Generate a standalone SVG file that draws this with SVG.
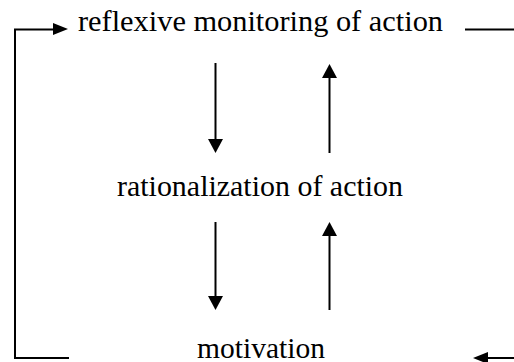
<svg xmlns="http://www.w3.org/2000/svg" width="514" height="362" viewBox="0 0 514 362">
<style>
.lbl{font-family:"Liberation Serif","Times New Roman",serif;font-size:29.5px;fill:#000}
.ln{stroke:#000;stroke-width:2;fill:none}
.hd{fill:#000;stroke:none}
</style>
<rect width="514" height="362" fill="#fff"/>
<g id="node-reflexive"><text class="lbl" x="78" y="31" textLength="365" lengthAdjust="spacingAndGlyphs">reflexive monitoring of action</text></g>
<g id="node-rationalization"><text class="lbl" x="117" y="196" textLength="286" lengthAdjust="spacingAndGlyphs">rationalization of action</text></g>
<g id="node-motivation"><text class="lbl" x="197" y="358" textLength="128" lengthAdjust="spacingAndGlyphs">motivation</text></g>
<g id="connectors">
<path class="ln" d="M69,358 H15 V29.5 H55"/>
<polygon class="hd" points="68,29 53,23 53,35"/>
<line class="ln" x1="465" y1="29.5" x2="514" y2="29.5"/>
<line class="ln" x1="487" y1="358" x2="514" y2="358"/>
<polygon class="hd" points="473,358 488,352 488,364"/>
<line class="ln" x1="215.5" y1="63" x2="215.5" y2="141"/>
<polygon class="hd" points="215.5,153 208,139 223,139"/>
<line class="ln" x1="329.5" y1="76" x2="329.5" y2="153"/>
<polygon class="hd" points="329.5,64 322,78 337,78"/>
<line class="ln" x1="215.5" y1="222" x2="215.5" y2="298"/>
<polygon class="hd" points="215.5,310 208,296 223,296"/>
<line class="ln" x1="329.5" y1="234" x2="329.5" y2="310"/>
<polygon class="hd" points="329.5,222 322,236 337,236"/>
</g>
</svg>
